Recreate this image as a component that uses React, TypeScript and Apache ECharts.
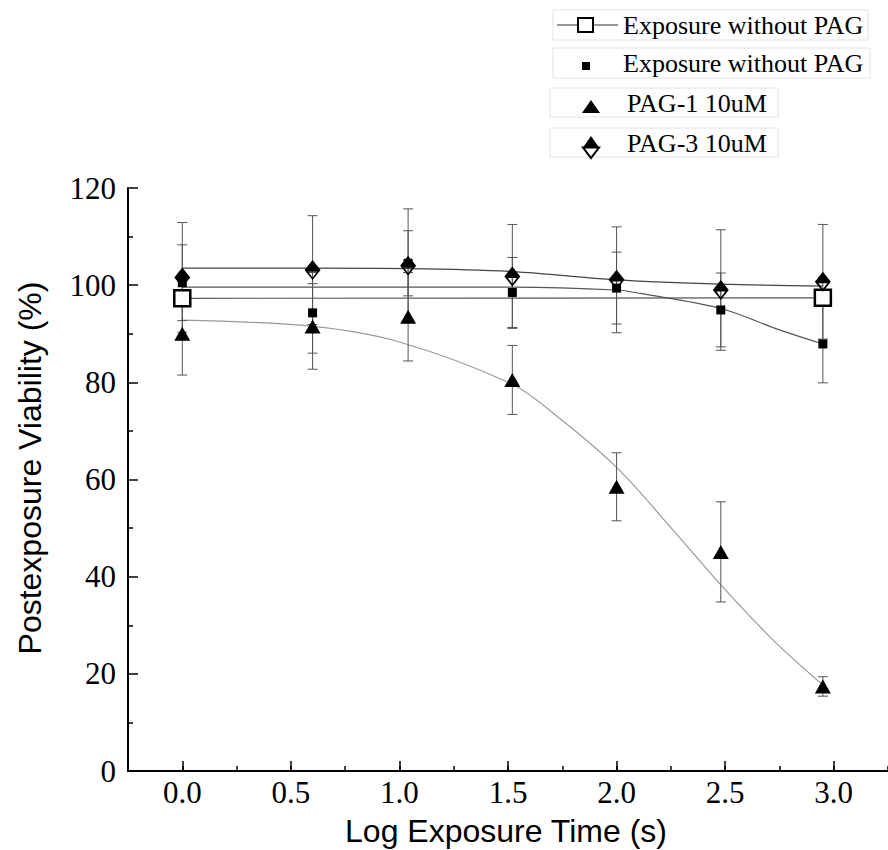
import React, { useEffect, useRef } from "react";
import * as echarts from "echarts";

// Log exposure time (s) of each measurement
const xs = [0, 0.6, 1.04, 1.52, 2.0, 2.48, 2.95];
// Exposure without PAG (open squares, fit line)
const ctrlX = [0, 2.95];
const ctrlY = [97.3, 97.4];
// Exposure without PAG (filled squares)
const sqY = [100.5, 94.3, 104.5, 98.5, 99.4, 94.9, 87.9];
const sqErr = [7.8, 8.3, 6.7, 7.2, 7.4, 7.6, 8.0];
// PAG-1 10uM
const p1Y = [90.0, 91.5, 93.5, 80.5, 58.5, 45.1, 17.4];
const p1Err = [8.5, 8.8, 9.1, 7.1, 7.0, 10.3, 2.0];
// PAG-3 10uM
const p3Y = [101.6, 103.1, 104.0, 101.8, 101.1, 99.0, 100.7];
const p3Err = [11.3, 11.2, 11.7, 10.7, 10.9, 12.4, 11.8];
// fitted curves
const p3FitX = [0, 0.6, 1.04, 1.52, 2.0, 2.48, 2.95];
const p3FitY = [103.5, 103.5, 103.4, 102.8, 101.1, 100.2, 99.8];
const sqFitX = [0, 0.6, 1.04, 1.52, 2.0, 2.11, 2.48, 2.75, 2.95];
const sqFitY = [99.6, 99.6, 99.6, 99.6, 99.0, 98.3, 95.2, 90.8, 87.9];
const p1FitX = [0, 0.6, 1.0, 1.51, 1.71, 2.0, 2.26, 2.48, 2.72, 2.95];
const p1FitY = [92.8, 91.5, 88.3, 79.8, 73.6, 62.5, 49.6, 38.3, 27.0, 17.7];
// axis ticks
const xMajor = [0, 0.5, 1.0, 1.5, 2.0, 2.5, 3.0];
const legendNames = ["Exposure without PAG", "Exposure without PAG", "PAG-1 10uM", "PAG-3 10uM"];

const SERIF = "Liberation Serif, Times New Roman, serif";
const SANS = "Liberation Sans, Arial, sans-serif";
const PAG3_SYMBOL = "path://M8,0 L16,10 L8,20 L0,10 Z M3.6,11.6 L8,17.6 L12.4,11.6 Z";

function errSeries(ys: number[], errs: number[]) {
  return {
    type: "custom",
    xAxisIndex: 0,
    yAxisIndex: 0,
    z: 2,
    data: xs.map((x, i) => [x, ys[i], errs[i]]),
    renderItem: (params: any, api: any) => {
      const x = api.value(0);
      const y = api.value(1);
      const e = api.value(2);
      const top = api.coord([x, y + e]);
      const bot = api.coord([x, y - e]);
      const cap = 5;
      const st = { stroke: "#555", lineWidth: 1 };
      return {
        type: "group",
        children: [
          { type: "line", shape: { x1: top[0], y1: top[1], x2: bot[0], y2: bot[1] }, style: st },
          { type: "line", shape: { x1: top[0] - cap, y1: top[1], x2: top[0] + cap, y2: top[1] }, style: st },
          { type: "line", shape: { x1: bot[0] - cap, y1: bot[1], x2: bot[0] + cap, y2: bot[1] }, style: st },
        ],
      };
    },
  };
}

function fitSeries(fx: number[], fy: number[], color: string) {
  return {
    type: "line",
    xAxisIndex: 0,
    yAxisIndex: 0,
    data: fx.map((x, i) => [x, fy[i]]),
    smooth: 0.35,
    symbol: "none",
    z: 1,
    lineStyle: { color, width: 1.2 },
  };
}

export default function App() {
  const ref = useRef<HTMLDivElement>(null);
  useEffect(() => {
    if (!ref.current) return;
    const chart = echarts.init(ref.current, undefined, { renderer: "svg" });
    const boxStroke = "#e2e2e2";
    const legendText = (y: number, x: number, t: string) => ({
      type: "text",
      x,
      y,
      style: { text: t, font: `26px ${SERIF}`, fill: "#000", textVerticalAlign: "middle", verticalAlign: "middle" },
    });
    const option: any = {
      animation: false,
      backgroundColor: "#fff",
      grid: { left: 128, right: 0, top: 188, bottom: 79, outerBoundsMode: "none" },
      xAxis: [
        {
          type: "value",
          min: -0.25,
          max: 3.25,
          position: "bottom",
          axisLine: { show: true, onZero: false, lineStyle: { color: "#000", width: 2 } },
          axisTick: { show: true, inside: true, length: 10, customValues: xMajor, lineStyle: { color: "#000", width: 1.5 } },
          axisLabel: {
            customValues: xMajor,
            formatter: (v: number) => v.toFixed(1),
            fontFamily: SERIF,
            fontSize: 31,
            color: "#000",
            margin: 6,
          },
          splitLine: { show: false },
        },
        {
          type: "value",
          min: -0.25,
          max: 3.25,
          interval: 0.25,
          position: "bottom",
          axisLine: { show: false, onZero: false },
          axisTick: { show: true, inside: true, length: 5, lineStyle: { color: "#000", width: 1.5 } },
          axisLabel: { show: false },
          splitLine: { show: false },
        },
      ],
      yAxis: {
        type: "value",
        min: 0,
        max: 120,
        interval: 20,
        position: "left",
        axisLine: { show: true, onZero: false, lineStyle: { color: "#000", width: 2 } },
        axisTick: { show: true, inside: true, length: 10, lineStyle: { color: "#000", width: 1.5 } },
        minorTick: { show: true, splitNumber: 2, length: 5, lineStyle: { color: "#000", width: 1.5 } },
        axisLabel: { fontFamily: SERIF, fontSize: 31, color: "#000", margin: 12 },
        splitLine: { show: false },
      },
      series: [
        fitSeries(p3FitX, p3FitY, "#444"),
        fitSeries(sqFitX, sqFitY, "#555"),
        fitSeries(p1FitX, p1FitY, "#9a9a9a"),
        errSeries(p3Y, p3Err),
        errSeries(sqY, sqErr),
        errSeries(p1Y, p1Err),
        {
          name: legendNames[0],
          type: "line",
          data: ctrlX.map((x, i) => [x, ctrlY[i]]),
          symbol: "rect",
          symbolSize: 16,
          showAllSymbol: true,
          z: 3,
          lineStyle: { color: "#555", width: 1.2 },
          itemStyle: { color: "#fff", borderColor: "#000", borderWidth: 2.5, opacity: 1 },
        },
        {
          name: legendNames[1],
          type: "scatter",
          data: xs.map((x, i) => [x, sqY[i]]),
          symbol: "rect",
          symbolSize: 9,
          z: 4,
          itemStyle: { color: "#000", opacity: 1 },
        },
        {
          name: legendNames[2],
          type: "scatter",
          data: xs.map((x, i) => [x, p1Y[i]]),
          symbol: "triangle",
          symbolSize: [16, 14],
          z: 4,
          itemStyle: { color: "#000", opacity: 1 },
        },
        {
          name: legendNames[3],
          type: "scatter",
          data: xs.map((x, i) => [x, p3Y[i]]),
          symbol: PAG3_SYMBOL,
          symbolSize: [16, 20],
          z: 5,
          itemStyle: { color: "#000", opacity: 1 },
        },
      ],
      graphic: [
        // legend boxes
        { type: "rect", shape: { x: 553, y: 10, width: 315, height: 30 }, style: { fill: "none", stroke: boxStroke, lineWidth: 1 } },
        { type: "rect", shape: { x: 553, y: 48, width: 317, height: 30 }, style: { fill: "none", stroke: boxStroke, lineWidth: 1 } },
        { type: "rect", shape: { x: 550, y: 88, width: 228, height: 29 }, style: { fill: "none", stroke: boxStroke, lineWidth: 1 } },
        { type: "rect", shape: { x: 550, y: 128, width: 228, height: 29 }, style: { fill: "none", stroke: boxStroke, lineWidth: 1 } },
        // legend symbols
        { type: "line", shape: { x1: 557, y1: 25, x2: 618, y2: 25 }, style: { stroke: "#333", lineWidth: 1.2 } },
        { type: "rect", shape: { x: 578, y: 18, width: 15, height: 14 }, style: { fill: "#fff", stroke: "#000", lineWidth: 2 } },
        { type: "rect", shape: { x: 582, y: 62, width: 8, height: 8 }, style: { fill: "#000" } },
        { type: "polygon", shape: { points: [[591, 100], [600, 113], [582, 113]] }, style: { fill: "#000" } },
        { type: "polygon", shape: { points: [[583, 147.5], [599, 147.5], [591, 158]] }, style: { fill: "#fff", stroke: "#000", lineWidth: 2 } },
        { type: "polygon", shape: { points: [[591, 136], [599, 147.5], [583, 147.5]] }, style: { fill: "#000" } },
        // legend texts
        legendText(25, 623, legendNames[0]),
        legendText(63, 623, legendNames[1]),
        legendText(103, 627, legendNames[2]),
        legendText(143, 627, legendNames[3]),
        // axis titles
        {
          type: "text",
          x: 506,
          y: 831,
          style: {
            text: "Log Exposure Time (s)",
            font: `32px ${SANS}`,
            fill: "#000",
            textAlign: "center",
            align: "center",
            textVerticalAlign: "middle",
            verticalAlign: "middle",
          },
        },
        {
          type: "text",
          x: 30,
          y: 468,
          rotation: Math.PI / 2,
          style: {
            text: "Postexposure Viability (%)",
            font: `32px ${SANS}`,
            fill: "#000",
            textAlign: "center",
            align: "center",
            textVerticalAlign: "middle",
            verticalAlign: "middle",
          },
        },
      ],
    };
    chart.setOption(option);
    return () => chart.dispose();
  }, []);
  return <div ref={ref} style={{ position: "fixed", left: 0, top: 0, width: 888, height: 850 }} />;
}
